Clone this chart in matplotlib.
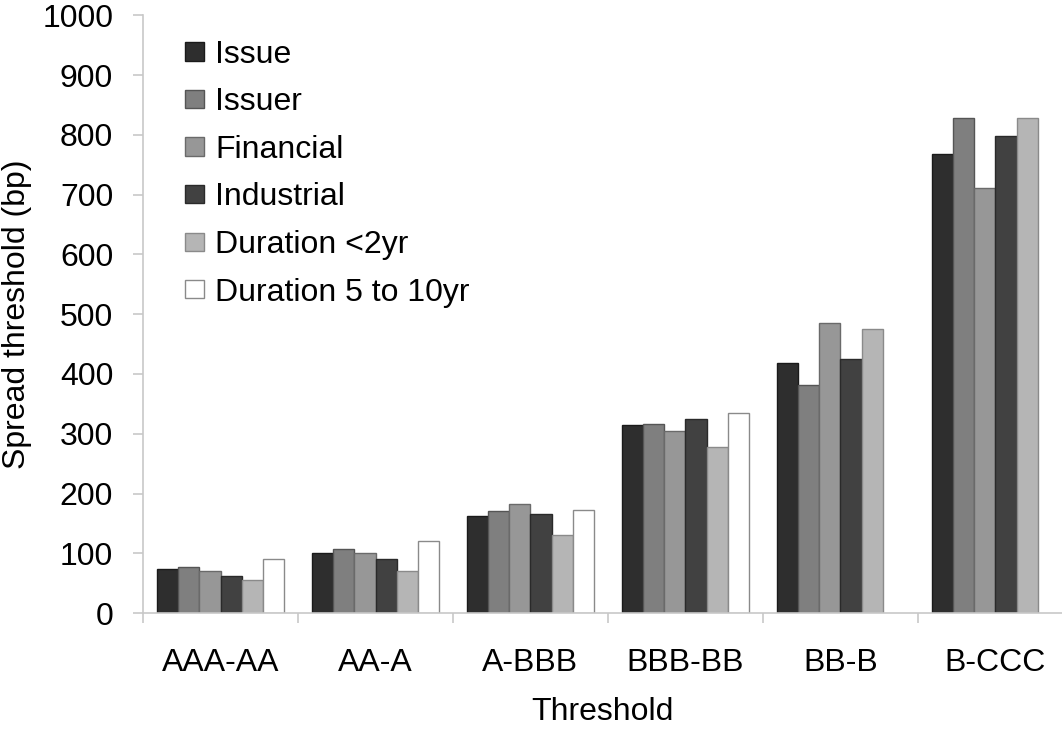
import numpy as np
import matplotlib.pyplot as plt
from matplotlib.ticker import FixedLocator

plt.rcParams['font.family'] = ['Liberation Sans', 'DejaVu Sans']

categories = ['AAA-AA', 'AA-A', 'A-BBB', 'BBB-BB', 'BB-B', 'B-CCC']
series = ['Issue', 'Issuer', 'Financial', 'Industrial',
          'Duration <2yr', 'Duration 5 to 10yr']

issue = [73, 100, 163, 314, 419, 768]
issuer = [77, 107, 170, 317, 381, 828]
financial = [70, 100, 183, 304, 486, 711]
industrial = [62, 90, 166, 325, 425, 798]
dur_short = [56, 70, 130, 278, 475, 828]
dur_long = [90, 120, 173, 334, np.nan, np.nan]

values = [issue, issuer, financial, industrial, dur_short, dur_long]
fills = ['#2e2e2e', '#7f7f7f', '#979797', '#414141', '#b5b5b5', '#ffffff']
edges = ['#1a1a1a', '#555555', '#6a6a6a', '#2a2a2a', '#8a8a8a', '#8a8a8a']

FS = 23

fig = plt.figure(figsize=(10.62, 7.29), dpi=100)
ax = fig.add_axes([0.1347, 0.159, 0.8653, 0.820])

x = np.arange(len(categories))
w = 0.137
for k, (vals, fc, ec) in enumerate(zip(values, fills, edges)):
    ax.bar(x + (k - 2.5) * w, vals, w, color=fc, edgecolor=ec,
           linewidth=1.0, label=series[k])

ax.set_xlim(-0.5, 5.43)
ax.set_ylim(0, 1000)
ax.set_yticks(range(0, 1001, 100))

# boundary ticks between groups, labels sit at the group centres
ax.xaxis.set_major_locator(FixedLocator(np.arange(-0.5, 6, 1.0)))
ax.xaxis.set_minor_locator(FixedLocator(x))
ax.set_xticklabels([], minor=False)
ax.set_xticklabels(categories, minor=True)
ax.tick_params(axis='x', which='major', direction='out', length=7.5,
               color='#c8c8c8', width=1.2)
ax.tick_params(axis='x', which='minor', length=0, pad=25, labelsize=FS)
ax.tick_params(axis='y', direction='out', length=7.5, color='#c8c8c8',
               width=1.2, pad=14, labelsize=FS)

for side in ['top', 'right']:
    ax.spines[side].set_visible(False)
for side in ['left', 'bottom']:
    ax.spines[side].set_color('#c8c8c8')
    ax.spines[side].set_linewidth(1.2)

ax.set_xlabel('Threshold', fontsize=FS, labelpad=14)
ax.set_ylabel('Spread threshold (bp)', fontsize=FS, labelpad=7)

ax.legend(loc='upper left', bbox_to_anchor=(0.162, 0.963),
          bbox_transform=fig.transFigure, frameon=False, fontsize=FS,
          handlelength=0.6, handleheight=0.5, handletextpad=0.35,
          labelspacing=0.55, borderaxespad=0)

fig.savefig('out.png', dpi=100)
